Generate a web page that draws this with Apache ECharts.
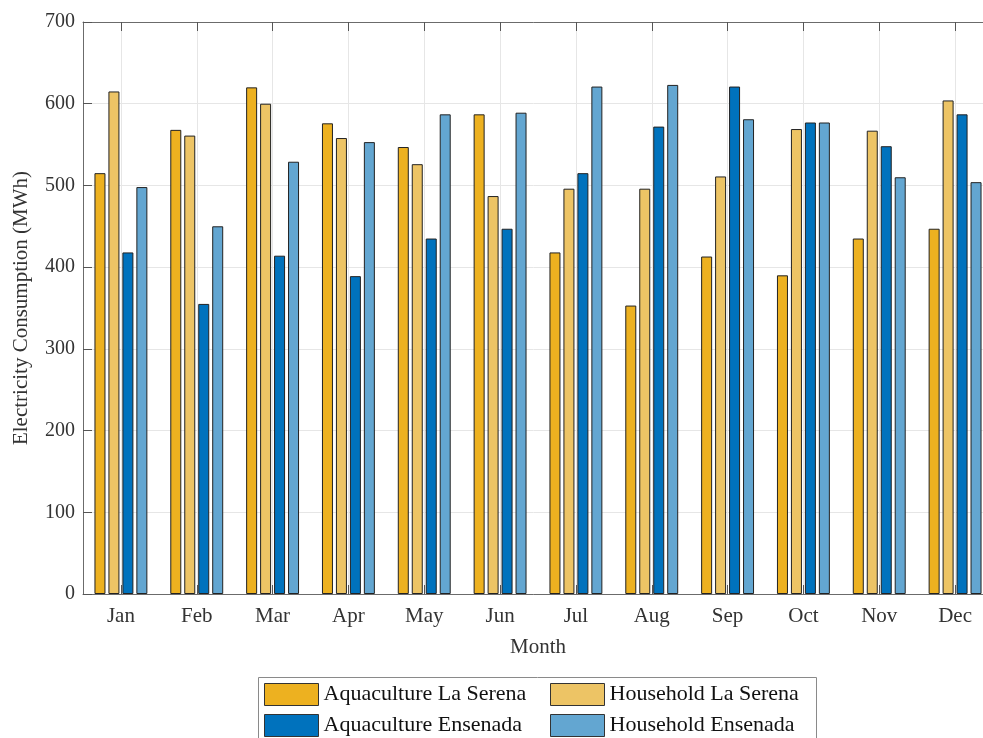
<!DOCTYPE html>
<html>
<head>
<meta charset="utf-8">
<script src="https://cdn.jsdelivr.net/npm/echarts@6/dist/echarts.min.js"></script>
<style>
  html, body { margin: 0; padding: 0; background: #ffffff; overflow: hidden; }
  #chart { width: 983px; height: 738px; }
</style>
</head>
<body>
<div id="chart"></div>
<script>
// Monthly electricity consumption (MWh)
const months = ['Jan', 'Feb', 'Mar', 'Apr', 'May', 'Jun', 'Jul', 'Aug', 'Sep', 'Oct', 'Nov', 'Dec'];
const aquacultureLaSerena = [515, 568, 620, 576, 547, 587, 418, 353, 413, 390, 435, 447];
const householdLaSerena   = [615, 561, 600, 558, 526, 487, 496, 496, 511, 569, 567, 604];
const aquacultureEnsenada = [418, 355, 414, 389, 435, 447, 515, 572, 621, 577, 548, 587];
const householdEnsenada   = [498, 450, 529, 553, 587, 589, 621, 623, 581, 577, 510, 504];
const seriesNames = ['Aquaculture La Serena', 'Household La Serena', 'Aquaculture Ensenada', 'Household Ensenada'];
const seriesColors = ['#EDB120', '#EDC465', '#0072BD', '#63A6D1'];
const yTicks = [0, 100, 200, 300, 400, 500, 600, 700];

const FONT = 'Liberation Serif';
const TEXT = '#333333';
const AXIS = '#6b6b6b';

const chart = echarts.init(document.getElementById('chart'), null, { renderer: 'canvas' });

const values = [aquacultureLaSerena, householdLaSerena, aquacultureEnsenada, householdEnsenada];
const series = values.map((vals, i) => ({
  name: seriesNames[i],
  type: 'bar',
  data: vals,
  barWidth: 11,
  barGap: '27%',
  itemStyle: { color: seriesColors[i], borderColor: '#222222', borderWidth: 1 },
  emphasis: { disabled: true }
}));

// two legend columns inside one framed box
const legendBase = {
  orient: 'vertical',
  top: 683,
  padding: 0,
  itemWidth: 54, itemHeight: 22,
  itemGap: 8,
  icon: 'rect',
  itemStyle: { borderColor: '#333333', borderWidth: 1 },
  textStyle: { fontFamily: FONT, fontSize: 22, color: '#111111' },
  selectedMode: false,
  z: 60
};

chart.setOption({
  animation: false,
  backgroundColor: '#ffffff',
  textStyle: { fontFamily: FONT },
  // the plot box runs past the right edge of the canvas
  grid: { left: 83, top: 22, width: 910, height: 572, containLabel: false, outerBoundsMode: 'none' },
  graphic: [{
    type: 'rect',
    left: 258, top: 677,
    shape: { width: 558, height: 66 },
    style: { fill: '#ffffff', stroke: '#8a8a8a', lineWidth: 1 },
    z: 50
  }],
  legend: [
    Object.assign({}, legendBase, { left: 264, data: [seriesNames[0], seriesNames[2]] }),
    Object.assign({}, legendBase, { left: 550, data: [seriesNames[1], seriesNames[3]] })
  ],
  xAxis: [{
    type: 'category',
    data: months,
    position: 'bottom',
    name: 'Month',
    nameLocation: 'middle',
    nameGap: 43,
    nameTextStyle: { fontFamily: FONT, fontSize: 21, color: TEXT },
    axisLine: { show: true, lineStyle: { color: AXIS, width: 1 } },
    axisTick: { show: true, inside: true, length: 9, alignWithLabel: true, lineStyle: { color: '#555555' } },
    axisLabel: { fontFamily: FONT, fontSize: 21, color: TEXT, margin: 12 },
    splitLine: { show: true, alignWithLabel: true, lineStyle: { color: '#e6e6e6', width: 1 } }
  }, {
    type: 'category',
    data: months,
    position: 'top',
    axisLine: { show: true, lineStyle: { color: AXIS, width: 1 } },
    axisTick: { show: true, inside: true, length: 9, alignWithLabel: true, lineStyle: { color: '#555555' } },
    axisLabel: { show: false },
    splitLine: { show: false }
  }],
  yAxis: {
    type: 'value',
    min: yTicks[0],
    max: yTicks[yTicks.length - 1],
    interval: 100,
    name: 'Electricity Consumption (MWh)',
    nameLocation: 'middle',
    nameGap: 51,
    nameTextStyle: { fontFamily: FONT, fontSize: 21, color: TEXT },
    axisLine: { show: true, lineStyle: { color: AXIS, width: 1 } },
    axisTick: { show: true, inside: true, length: 9, lineStyle: { color: '#555555' } },
    axisLabel: { fontFamily: FONT, fontSize: 20, color: TEXT, margin: 8 },
    splitLine: { show: true, lineStyle: { color: '#e6e6e6', width: 1 } }
  },
  series: series
});
</script>
</body>
</html>
